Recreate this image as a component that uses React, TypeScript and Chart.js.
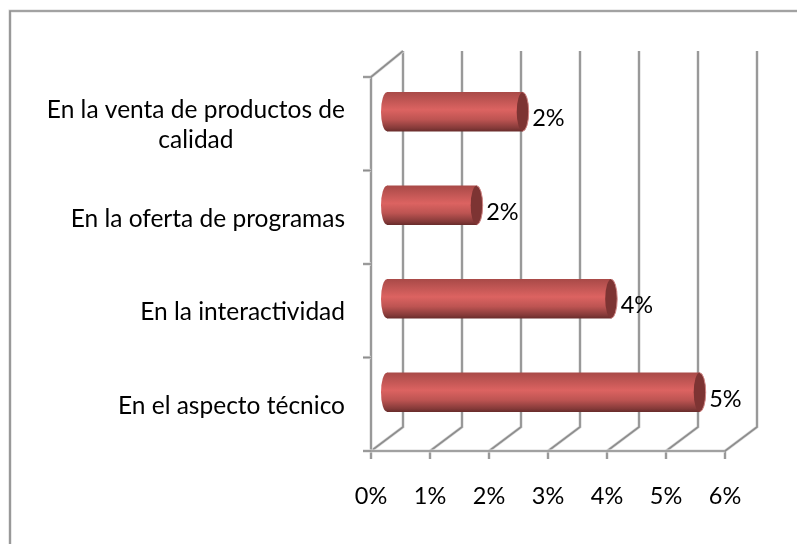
import React, { useEffect, useRef } from "react";
import { Chart, registerables } from "chart.js";

Chart.register(...registerables);

const categories: (string | string[])[] = [
  ["En la venta de productos de", "calidad"],
  "En la oferta de programas",
  "En la interactividad",
  "En el aspecto técnico",
];
const values = [2.3, 1.52, 3.8, 5.3];
const valueLabels = ["2%", "2%", "4%", "5%"];
const xTicks = [0, 1, 2, 3, 4, 5, 6];

const FONT = "Lato, Carlito, 'Open Sans', sans-serif";
const DEPTH_X = 32;
const DEPTH_Y = 24;
const BAR_SHIFT_X = 16;
const BAR_SHIFT_Y = 12;

function gridLine(c: CanvasRenderingContext2D, pts: number[][]) {
  c.beginPath();
  pts.forEach((p, i) => (i ? c.lineTo(p[0], p[1]) : c.moveTo(p[0], p[1])));
  c.strokeStyle = "#dcdcdc";
  c.lineWidth = 3.2;
  c.stroke();
  c.strokeStyle = "#8e8e8e";
  c.lineWidth = 1.7;
  c.stroke();
}

function barGradient(c: CanvasRenderingContext2D, cy: number, h: number) {
  const g = c.createLinearGradient(0, cy - h, 0, cy + h);
  g.addColorStop(0, "#a94a48");
  g.addColorStop(0.18, "#bd5452");
  g.addColorStop(0.45, "#dc6361");
  g.addColorStop(0.7, "#bd5452");
  g.addColorStop(0.92, "#853a39");
  g.addColorStop(1, "#6a2d2c");
  return g;
}

const walls = {
  id: "walls",
  beforeDatasetsDraw(chart: any) {
    const c: CanvasRenderingContext2D = chart.ctx;
    const { x, y } = chart.scales;
    const top = y.top;
    const bottom = y.bottom;
    c.save();
    // outer frame: top and left edges only, running off the picture
    gridLine(c, [
      [10, 544],
      [10, 11],
      [797, 11],
    ]);
    xTicks.forEach((t) => {
      const px = x.getPixelForValue(t);
      gridLine(c, [
        [px + DEPTH_X, top - DEPTH_Y - 2],
        [px + DEPTH_X, bottom - DEPTH_Y],
        [px, bottom],
      ]);
      gridLine(c, [
        [px, bottom],
        [px, bottom + 8],
      ]);
    });
    const left = x.left;
    gridLine(c, [
      [left, bottom],
      [left, top],
      [left + DEPTH_X, top - DEPTH_Y - 2],
    ]);
    gridLine(c, [
      [left, bottom],
      [x.right, bottom],
    ]);
    categories.concat([""]).forEach((_, i) => {
      const py = top + (i * (bottom - top)) / categories.length;
      gridLine(c, [
        [left - 8, py],
        [left, py],
      ]);
    });
    c.restore();
    // start caps, behind the shifted bars
    c.save();
    chart.getDatasetMeta(0).data.forEach((b: any) => {
      const h = b.height / 2;
      c.fillStyle = barGradient(c, b.y - BAR_SHIFT_Y, h);
      c.beginPath();
      c.ellipse(b.base + BAR_SHIFT_X, b.y - BAR_SHIFT_Y, 6, h, 0, 0, Math.PI * 2);
      c.fill();
    });
    c.restore();
    c.save();
    c.translate(BAR_SHIFT_X, -BAR_SHIFT_Y);
  },
  afterDatasetsDraw(chart: any) {
    const c: CanvasRenderingContext2D = chart.ctx;
    c.restore();
    c.save();
    chart.getDatasetMeta(0).data.forEach((b: any, i: number) => {
      const h = b.height / 2;
      const cx = b.x + BAR_SHIFT_X;
      const cy = b.y - BAR_SHIFT_Y;
      c.beginPath();
      c.ellipse(cx, cy, 6, h, 0, 0, Math.PI * 2);
      c.fillStyle = "#7d3433";
      c.fill();
      c.strokeStyle = "#cf8483";
      c.lineWidth = 1;
      c.beginPath();
      c.ellipse(cx, cy, 6, h, 0, -Math.PI / 2, Math.PI / 2);
      c.stroke();
      c.fillStyle = "#000";
      c.font = `23.5px ${FONT}`;
      c.textAlign = "left";
      c.textBaseline = "middle";
      c.fillText(valueLabels[i], cx + 9.5, cy + 7);
    });
    // category labels, each line centred within its block, block right-aligned
    const { y } = chart.scales;
    c.fillStyle = "#000";
    c.font = `24.5px ${FONT}`;
    c.textBaseline = "middle";
    c.textAlign = "center";
    categories.forEach((cat, i) => {
      const lines = Array.isArray(cat) ? cat : [cat];
      const w = Math.max(...lines.map((l) => c.measureText(l).width));
      const py = y.getPixelForValue(i) + 1.5;
      lines.forEach((l, j) => {
        c.fillText(l, 345 - w / 2, py + (j - (lines.length - 1) / 2) * 30);
      });
    });
    c.restore();
  },
};

export default function App() {
  const ref = useRef<HTMLCanvasElement>(null);
  useEffect(() => {
    const chart = new Chart(ref.current!, {
      type: "bar",
      data: {
        labels: categories as any,
        datasets: [
          {
            data: values,
            barThickness: 39,
            borderWidth: 0,
            backgroundColor: (ctx: any) => {
              const sc = ctx.chart.scales.y;
              const py = sc && ctx.dataIndex !== undefined ? sc.getPixelForValue(ctx.dataIndex) : NaN;
              if (!Number.isFinite(py)) return "#bd5452";
              return barGradient(ctx.chart.ctx, py, 19.5);
            },
          },
        ],
      },
      options: {
        indexAxis: "y",
        responsive: false,
        animation: false,
        layout: { padding: { top: 77, right: 72, left: 0, bottom: 0 } },
        plugins: { legend: { display: false }, tooltip: { enabled: false } },
        scales: {
          x: {
            min: 0,
            max: 6,
            grid: { display: false },
            border: { display: false },
            afterFit: (s: any) => {
              s.height = 93;
            },
            ticks: {
              stepSize: 1,
              maxRotation: 0,
              padding: 23,
              color: "#000",
              font: { family: FONT, size: 23.5 },
              callback: (v: any) => `${v}%`,
            },
          },
          y: {
            grid: { display: false },
            border: { display: false },
            afterFit: (s: any) => {
              s.width = 371;
            },
            ticks: { display: false },
          },
        },
      } as any,
      plugins: [walls],
    });
    return () => chart.destroy();
  }, []);
  return (
    <div style={{ position: "absolute", left: 0, top: 0, width: 797, height: 544, overflow: "hidden", background: "#fff" }}>
      <canvas ref={ref} width={797} height={544} style={{ display: "block" }} />
    </div>
  );
}
